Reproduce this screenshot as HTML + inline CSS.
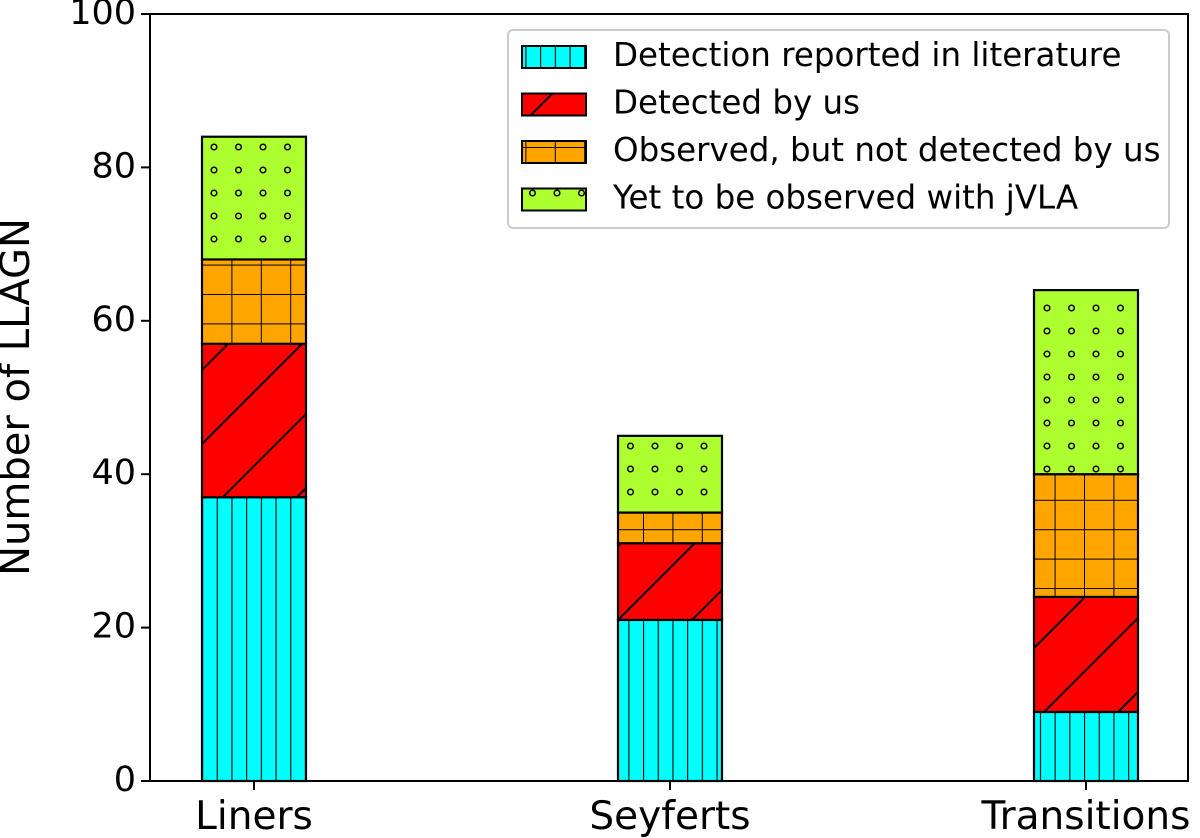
<!DOCTYPE html>
<html><head><meta charset="utf-8"><style>
html,body{margin:0;padding:0;background:#fff;}
svg{display:block;font-family:"DejaVu Sans","Liberation Sans",sans-serif;}
</style></head><body>
<svg id="chart" width="1200" height="838" viewBox="0 0 1200 838">
<defs>
<pattern id="p-vert" patternUnits="userSpaceOnUse" x="202" y="0" width="14.7" height="20">
  <rect width="14.7" height="20" fill="#00ffff"/><line x1="0" y1="0" x2="0" y2="20" stroke="#000" stroke-width="2.2"/></pattern>
<pattern id="p-diag" patternUnits="userSpaceOnUse" x="202" y="0" width="74" height="74">
  <rect width="74" height="74" fill="#ff0000"/><line x1="0" y1="74" x2="74" y2="0" stroke="#000" stroke-width="2"/><line x1="-10" y1="10" x2="10" y2="-10" stroke="#000" stroke-width="2"/><line x1="64" y1="84" x2="84" y2="64" stroke="#000" stroke-width="2"/></pattern>
<pattern id="p-plus" patternUnits="userSpaceOnUse" x="202" y="0" width="29.4" height="29.4">
  <rect width="29.4" height="29.4" fill="#ffa500"/><line x1="0" y1="0" x2="0" y2="29.4" stroke="#000" stroke-width="2"/><line x1="0" y1="0" x2="29.4" y2="0" stroke="#000" stroke-width="2"/></pattern>
<pattern id="p-dots" patternUnits="userSpaceOnUse" x="202" y="0" width="24.5" height="23">
  <rect width="24.5" height="23" fill="#adff2f"/><circle cx="12" cy="9" r="2.8" fill="none" stroke="#000" stroke-width="1.5"/></pattern>
</defs>
<rect x="0" y="0" width="1200" height="838" fill="#fff"/>
<g id="bars"></g>
<g id="axes"></g>
<text x="18" y="397" transform="rotate(-90 18 397)" text-anchor="middle" font-size="40" dominant-baseline="middle">Number of LLAGN</text>
<g>
<rect x="508" y="30" width="661" height="198" rx="5" fill="#fff" fill-opacity="0.8" stroke="#ccc" stroke-width="2"/>
<g id="legend-items"></g>
</g>
</svg>
<script>
const categories = ["Liners","Seyferts","Transitions"];
const seriesNames = ["Detection reported in literature","Detected by us","Observed, but not detected by us","Yet to be observed with jVLA"];
const literature = [37,21,9];
const detected = [20,10,15];
const notDetected = [11,4,16];
const toObserve = [16,10,24];
const yTicks = [0,20,40,60,80,100];
const fills = ["url(#p-vert)","url(#p-diag)","url(#p-plus)","url(#p-dots)"];
const series=[literature,detected,notDetected,toObserve];
const NS="http://www.w3.org/2000/svg";
const L=150,R=1188,T=14,B=781;
const y=v=>B-(v/100)*(B-T);
const xC=i=>254+i*416;
const bw=104;
function mk(t,a,p){const e=document.createElementNS(NS,t);for(const k in a)e.setAttribute(k,a[k]);p.appendChild(e);return e;}
const bars=document.getElementById('bars');
categories.forEach((c,i)=>{let cum=0;
  series.forEach((s,j)=>{const v=s[i];
    const r=mk('rect',{x:xC(i)-bw/2,y:y(cum+v),width:bw,height:y(cum)-y(cum+v),fill:fills[j],stroke:'#000','stroke-width':2.2},bars);
    
    
    cum+=v;});
});
const ax=document.getElementById('axes');
const fr=mk('rect',{x:L,y:T,width:R-L,height:B-T,fill:'none',stroke:'#000','stroke-width':2},ax);


yTicks.forEach(t=>{mk('line',{x1:L-9,x2:L,y1:y(t),y2:y(t),stroke:'#000','stroke-width':2},ax);
  const tx=mk('text',{x:L-14,y:y(t),'text-anchor':'end','dominant-baseline':'middle','font-size':35},ax);tx.textContent=t;
  
  });
categories.forEach((c,i)=>{mk('line',{x1:xC(i),x2:xC(i),y1:B,y2:B+9,stroke:'#000','stroke-width':2},ax);
  const tx=mk('text',{x:xC(i),y:829,'text-anchor':'middle','font-size':39},ax);tx.textContent=c;
  
  });
const lg=document.getElementById('legend-items');
seriesNames.forEach((n,j)=>{const cy=57+j*47.5;
  const r=mk('rect',{x:522,y:cy-11,width:64,height:22,fill:fills[j],stroke:'#000','stroke-width':2},lg);
  
  
  const tx=mk('text',{x:613,y:cy,'dominant-baseline':'middle','font-size':32.5},lg);tx.textContent=n;
  
  });
</script>
</body></html>
